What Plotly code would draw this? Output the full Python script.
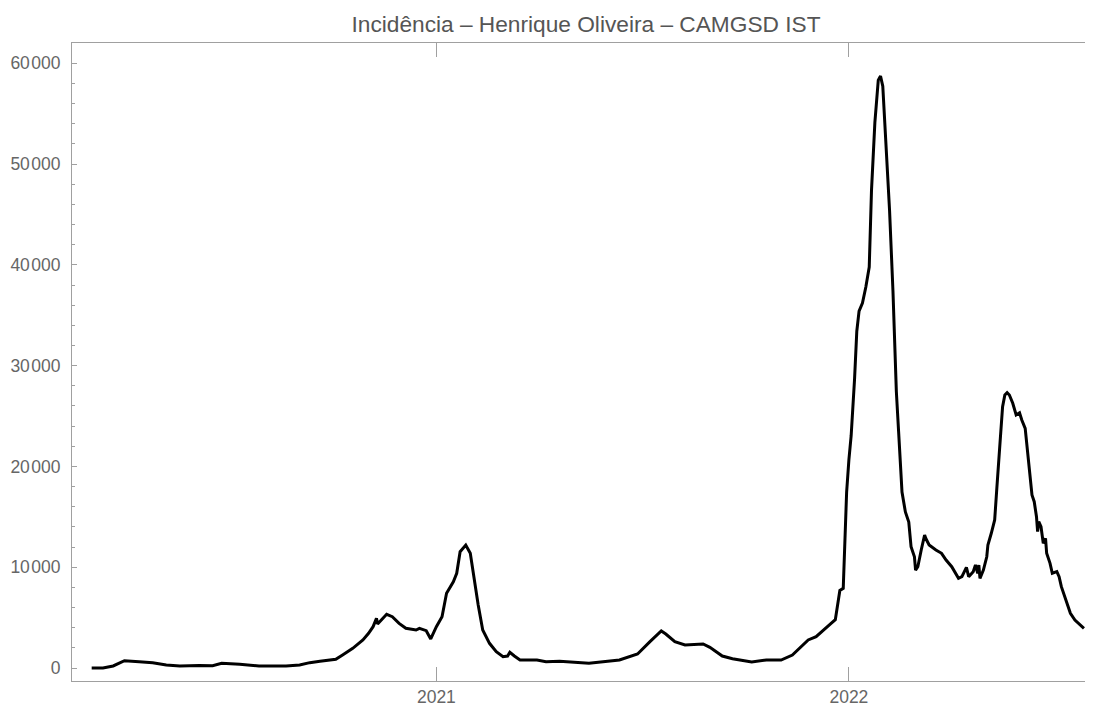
import pandas as pd
import plotly.graph_objects as go

# dados (incidência diária, média móvel)
datas = [
    "2020-03-02", "2020-03-12", "2020-03-21", "2020-03-31", "2020-04-13", "2020-04-25",
    "2020-05-07", "2020-05-19", "2020-06-05", "2020-06-17", "2020-06-25", "2020-07-11",
    "2020-07-28", "2020-08-21", "2020-09-02", "2020-09-11", "2020-09-20", "2020-10-04",
    "2020-10-10", "2020-10-19", "2020-10-28", "2020-11-02", "2020-11-06", "2020-11-09",
    "2020-11-10", "2020-11-18", "2020-11-23", "2020-11-29", "2020-12-05", "2020-12-14",
    "2020-12-17", "2020-12-23", "2020-12-27",
    "2021-01-01", "2021-01-06", "2021-01-10", "2021-01-16", "2021-01-19", "2021-01-22",
    "2021-01-27", "2021-01-31", "2021-02-03", "2021-02-07", "2021-02-11", "2021-02-17",
    "2021-02-23", "2021-03-01", "2021-03-05", "2021-03-07", "2021-03-11", "2021-03-16",
    "2021-03-31", "2021-04-08", "2021-04-20", "2021-05-16", "2021-06-12", "2021-06-21",
    "2021-06-28", "2021-07-09", "2021-07-19", "2021-07-23", "2021-07-31", "2021-08-09",
    "2021-08-25", "2021-08-31", "2021-09-11", "2021-09-20", "2021-10-07", "2021-10-20",
    "2021-11-02", "2021-11-12", "2021-11-26", "2021-12-03", "2021-12-12", "2021-12-16",
    "2021-12-20", "2021-12-22", "2021-12-24", "2021-12-27", "2021-12-28", "2021-12-30",
    "2022-01-01", "2022-01-03", "2022-01-06", "2022-01-08", "2022-01-10", "2022-01-13",
    "2022-01-16", "2022-01-19", "2022-01-21", "2022-01-24", "2022-01-27", "2022-01-29",
    "2022-01-31", "2022-02-03", "2022-02-06", "2022-02-09", "2022-02-12", "2022-02-14",
    "2022-02-17", "2022-02-20", "2022-02-23", "2022-02-25", "2022-02-28", "2022-03-01",
    "2022-03-03", "2022-03-06", "2022-03-09", "2022-03-10", "2022-03-13", "2022-03-19",
    "2022-03-24", "2022-03-28", "2022-04-02", "2022-04-08", "2022-04-11", "2022-04-15",
    "2022-04-17", "2022-04-21", "2022-04-23", "2022-04-25", "2022-04-26", "2022-04-27",
    "2022-04-30", "2022-05-03", "2022-05-04", "2022-05-07", "2022-05-10", "2022-05-12",
    "2022-05-14", "2022-05-15", "2022-05-17", "2022-05-19", "2022-05-21", "2022-05-23",
    "2022-05-26", "2022-05-29", "2022-06-01", "2022-06-03", "2022-06-06", "2022-06-08",
    "2022-06-10", "2022-06-12", "2022-06-14", "2022-06-16", "2022-06-17", "2022-06-18",
    "2022-06-20", "2022-06-22", "2022-06-24", "2022-06-25", "2022-06-28", "2022-06-30",
    "2022-07-04", "2022-07-06", "2022-07-08", "2022-07-10", "2022-07-13", "2022-07-16",
    "2022-07-20", "2022-07-24", "2022-07-28",
]

casos = [
    0, 0, 200, 720, 630, 530,
    300, 200, 260, 230, 460, 380,
    200, 200, 300, 530, 660, 860,
    1290, 1950, 2780, 3440, 4100, 4930,
    4370, 5330, 5090, 4430, 3940, 3770,
    3940, 3700, 2880,
    4100, 5090, 7410, 8560, 9400, 11540,
    12200, 11380, 9060, 6250, 3770, 2450,
    1620, 1120, 1190, 1560, 1190, 790,
    790, 630, 680, 460, 790, 1120,
    1390, 2610, 3670, 3370, 2610, 2280,
    2380, 2050, 1190, 920, 600, 790,
    790, 1290, 2780, 3110, 3940, 4400,
    4790, 6310, 7700, 7900, 11490, 17460,
    20660, 23050, 28640, 33420, 35420, 36210,
    37810, 39790, 47370, 54150, 58340, 58740,
    57730, 51760, 45380, 37410, 27440, 23450,
    17460, 15480, 14480, 12040, 11040, 9720,
    10050, 11710, 13200, 12870, 12210, 11710,
    11380, 10720, 10050, 8900, 9060, 9990,
    9060, 9560, 10220, 9400, 10220, 8900,
    9720, 11040, 12210, 13370, 14690, 17990,
    21960, 22790, 25930, 27090, 27320, 27090,
    26270, 25110, 25330, 24610, 23780, 21630,
    19650, 17170, 16500, 15010, 13530, 14520,
    14020, 12370, 12870, 11380, 10390, 9400,
    9560, 9060, 8070, 7410, 6420, 5430,
    4760, 4370, 3940,
]

anos = ["2021-01-01", "2022-01-01"]
anos_txt = ["2021", "2022"]

cinza = "#a0a0a0"
texto = "#666666"
fonte = "Liberation Sans, Arial, sans-serif"

# a página html tem 8px de margem no body, por isso a figura é um pouco menor
W, H = 1085, 696

fig = go.Figure()
fig.add_trace(go.Scatter(x=pd.to_datetime(datas), y=casos, mode="lines",
                         line=dict(color="black", width=3), showlegend=False))

fig.update_layout(
    width=W, height=H,
    margin=dict(l=64, r=0, t=35, b=23, autoexpand=False),
    plot_bgcolor="white", paper_bgcolor="white",
    separators=".\u200a",
    font=dict(family=fonte, size=17, color=texto),
    title=dict(text="Incidência – Henrique Oliveira – CAMGSD IST",
               x=578 / W, xref="container", xanchor="center",
               y=1 - 16 / H, yref="container", yanchor="middle",
               automargin=False,
               font=dict(size=22.7, color="#555555", family=fonte)),
)

fig.update_xaxes(
    type="date",
    range=["2020-02-13 14:00", "2022-08-05"],
    tickvals=anos, ticktext=anos_txt,
    ticks="inside", ticklen=14, tickcolor=cinza, tickwidth=1,
    showline=True, linecolor=cinza, linewidth=1, mirror="allticks",
    showgrid=False, zeroline=False, automargin=False,
    tickfont=dict(size=17.5, color=texto),
)

fig.update_yaxes(
    range=[-1290, 62020],
    tick0=0, dtick=10000, tickformat=",d",
    ticks="inside", ticklen=5, tickcolor=cinza, tickwidth=1,
    minor=dict(ticks="inside", ticklen=3, dtick=2000, tickcolor=cinza, showgrid=False),
    showline=True, linecolor=cinza, linewidth=1, mirror=False,
    showgrid=False, zeroline=False, automargin=False,
    ticklabelstandoff=7,
    tickfont=dict(size=17.5, color=texto),
)

fig.write_html("out.html")
